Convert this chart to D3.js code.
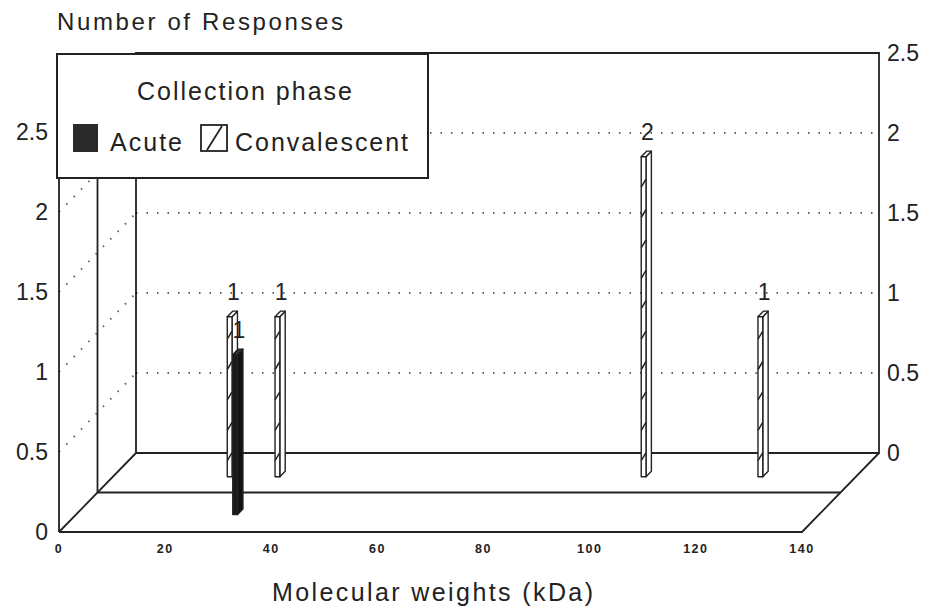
<!DOCTYPE html>
<html>
<head>
<meta charset="utf-8">
<script src="https://cdn.jsdelivr.net/npm/d3@7"></script>
<style>
  body { margin: 0; background: #fff; }
  text { font-family: "Liberation Sans", Arial, Helvetica, sans-serif; fill: #222; }
</style>
</head>
<body>
<div id="chart"></div>
<script>
// values
var xTicks = [0, 20, 40, 60, 80, 100, 120, 140];
var yTicks = [0, 0.5, 1, 1.5, 2, 2.5];
var gridVals = [0.5, 1, 1.5, 2];
var seriesNames = ["Acute", "Convalescent"];
var acuteKDa = [30];
var acuteCount = [1];
var convKDa = [22, 31, 100, 122];
var convCount = [1, 1, 2, 1];

var width = 932, height = 613;
var DX = 77, DY = 79, Y0 = 532;   // depth shift of the back wall

var x = d3.scaleLinear().domain([0, 140]).range([59, 802]);
var y = d3.scaleLinear().domain([0, 2.5]).range([0, 400]);

// project (kDa, value, depth 0..1) onto the page
function P(k, v, d) {
    return [x(k) + d * DX, Y0 - y(v) - d * DY];
}
var line = d3.line();

var svg = d3.select("#chart")
    .append("svg")
    .attr("width", width)
    .attr("height", height);

svg.append("rect")
    .attr("width", width)
    .attr("height", height)
    .attr("fill", "#fff");

// dotted grid on back wall and left wall
var grid = svg.append("g")
    .attr("stroke", "#666")
    .attr("stroke-width", 2)
    .attr("stroke-dasharray", "1.5,9")
    .attr("fill", "none");

grid.selectAll("path.back")
    .data(gridVals)
    .enter()
    .append("path")
    .attr("class", "back")
    .attr("d", function(v){ return line([P(0, v, 1), P(140, v, 1)]); });

grid.selectAll("path.side")
    .data(gridVals)
    .enter()
    .append("path")
    .attr("class", "side")
    .attr("d", function(v){ return line([P(0, v, 0), P(0, v, 1)]); });

// frame
var frame = [
    [P(0, 0, 1), P(140, 0, 1), P(140, 2.5, 1), P(0, 2.5, 1), P(0, 0, 1)],
    [P(0, 0, 0), P(0, 2.5, 0), P(0, 2.5, 1)],
    [P(0, 0, 0.5), P(0, 2.5, 0.5)],
    [P(0, 0, 0), P(140, 0, 0), P(140, 0, 1)],
    [P(0, 0, 0), P(0, 0, 1)],
    [P(0, 0, 0.5), P(140, 0, 0.5)]
];
svg.append("g")
    .selectAll("path")
    .data(frame)
    .enter()
    .append("path")
    .attr("d", function(d){ return line(d); })
    .attr("fill", "none")
    .attr("stroke", "#222")
    .attr("stroke-width", 1.8);

// bars
var hw = 0.45, dt = 0.07;
function barData(kdas, counts, depth, name) {
    return kdas.map(function(k, i){ return {k: k, v: counts[i], d: depth, name: name}; });
}
var rows = barData(convKDa, convCount, 0.7, seriesNames[1])
    .concat(barData(acuteKDa, acuteCount, 0.22, seriesNames[0]));

var bars = svg.append("g")
    .selectAll("g")
    .data(rows)
    .enter()
    .append("g");

bars.each(function(b){
    var g = d3.select(this);
    var dark = b.name == "Acute";
    var front = [P(b.k - hw, 0, b.d), P(b.k + hw, 0, b.d), P(b.k + hw, b.v, b.d), P(b.k - hw, b.v, b.d)];
    var top = [P(b.k - hw, b.v, b.d), P(b.k + hw, b.v, b.d), P(b.k + hw, b.v, b.d + dt), P(b.k - hw, b.v, b.d + dt)];
    var side = [P(b.k + hw, 0, b.d), P(b.k + hw, 0, b.d + dt), P(b.k + hw, b.v, b.d + dt), P(b.k + hw, b.v, b.d)];
    [side, top, front].forEach(function(f, i){
        g.append("path")
            .attr("d", line(f) + "Z")
            .attr("fill", dark ? ["#111", "#333", "#1a1a1a"][i] : "#fff")
            .attr("stroke", "#222")
            .attr("stroke-width", 1.4)
            .attr("stroke-linejoin", "round");
    });
    if (!dark) {
        g.selectAll("path.hatch")
            .data(d3.range(0.1, b.v - 0.05, 0.19))
            .enter()
            .append("path")
            .attr("class", "hatch")
            .attr("d", function(t){ return line([P(b.k - hw, t, b.d), P(b.k + hw, t + 0.05, b.d)]); })
            .attr("stroke", "#222")
            .attr("stroke-width", 1.5);
    }
    var lp = P(b.k, b.v, b.d + dt / 2);
    g.append("text")
        .attr("x", lp[0] + 1)
        .attr("y", lp[1] - 14)
        .attr("text-anchor", "middle")
        .style("font-size", "23px")
        .text(b.v);
});

// axis labels
svg.append("g")
    .selectAll("text")
    .data(yTicks)
    .enter()
    .append("text")
    .attr("x", 48)
    .attr("y", function(v){ return P(0, v, 0)[1] + 8; })
    .attr("text-anchor", "end")
    .style("font-size", "23px")
    .text(function(v){ return v; });

svg.append("g")
    .selectAll("text")
    .data(yTicks)
    .enter()
    .append("text")
    .attr("x", 887)
    .attr("y", function(v){ return P(140, v, 1)[1] + 8; })
    .style("font-size", "23px")
    .text(function(v){ return v; });

svg.append("g")
    .selectAll("text")
    .data(xTicks)
    .enter()
    .append("text")
    .attr("x", function(k){ return x(k); })
    .attr("y", 553)
    .attr("text-anchor", "middle")
    .style("font-size", "12.5px")
    .style("font-weight", "bold")
    .style("letter-spacing", "1.5px")
    .text(function(k){ return k; });

svg.append("text")
    .attr("x", 57)
    .attr("y", 30)
    .attr("textLength", 286)
    .attr("lengthAdjust", "spacing")
    .style("font-size", "24px")
    .text("Number of Responses");

svg.append("text")
    .attr("x", 272)
    .attr("y", 601)
    .attr("textLength", 321)
    .attr("lengthAdjust", "spacing")
    .style("font-size", "25px")
    .text("Molecular weights (kDa)");

// legend
var lg = svg.append("g");
lg.append("rect")
    .attr("x", 57)
    .attr("y", 54)
    .attr("width", 371)
    .attr("height", 124)
    .attr("fill", "#fff")
    .attr("stroke", "#222")
    .attr("stroke-width", 2);

lg.append("text")
    .attr("x", 137)
    .attr("y", 100)
    .attr("textLength", 215)
    .attr("lengthAdjust", "spacing")
    .style("font-size", "25px")
    .text("Collection phase");

lg.append("rect")
    .attr("x", 73)
    .attr("y", 124)
    .attr("width", 25)
    .attr("height", 28)
    .attr("fill", "#2a2a2a");

lg.append("text")
    .attr("x", 110)
    .attr("y", 151)
    .attr("textLength", 72)
    .attr("lengthAdjust", "spacing")
    .style("font-size", "25px")
    .text(seriesNames[0]);

lg.append("rect")
    .attr("x", 201)
    .attr("y", 125)
    .attr("width", 26)
    .attr("height", 26)
    .attr("fill", "#fff")
    .attr("stroke", "#222")
    .attr("stroke-width", 1.8);

lg.append("line")
    .attr("x1", 207)
    .attr("y1", 150)
    .attr("x2", 222)
    .attr("y2", 126)
    .attr("stroke", "#222")
    .attr("stroke-width", 1.8);

lg.append("text")
    .attr("x", 235)
    .attr("y", 151)
    .attr("textLength", 173)
    .attr("lengthAdjust", "spacing")
    .style("font-size", "25px")
    .text(seriesNames[1]);
</script>
</body>
</html>
